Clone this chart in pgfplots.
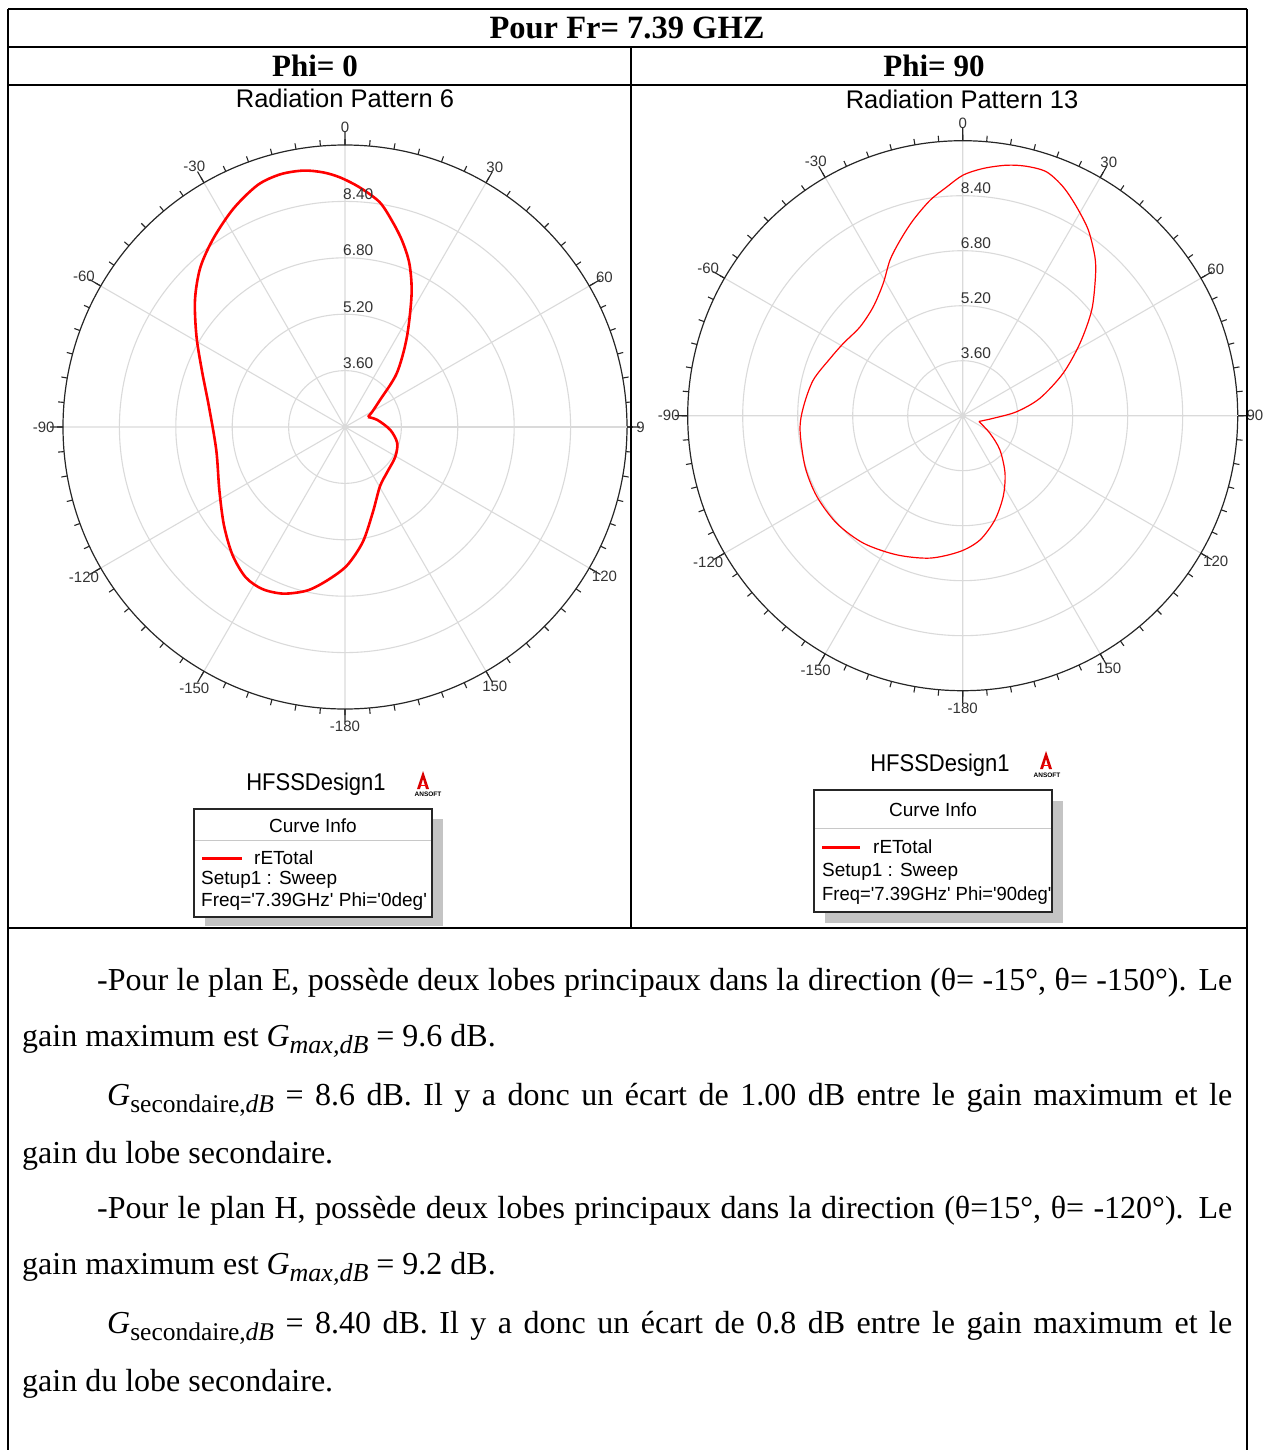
\documentclass[border=0pt]{standalone}
\usepackage{fontspec}
\setmainfont{Liberation Serif}
\newfontfamily\arial{Liberation Sans}
\usepackage{pgfplots}
\usepackage{pgfplotstable}
\pgfplotsset{compat=1.18}
\usepgfplotslibrary{polar}
\definecolor{gridgray}{HTML}{DADADA}
\definecolor{labgray}{HTML}{333333}
\definecolor{shadowgray}{HTML}{C4C4C4}
\definecolor{sepgray}{HTML}{C8C8C8}

% E-plane (Phi = 0): theta (deg, clockwise from top), gain (dB)
% listed from the notch round the pattern back to the notch
\pgfplotstableread{
t r
66.5 2.71
77.7 2.94
93.8 3.29
107.1 3.55
121.0 3.66
137.6 3.76
149.7 3.96
162.0 4.55
171.2 5.30
179.2 5.93
-173.4 6.38
-167.0 6.76
-159.7 7.04
-153.0 7.16
-146.5 7.11
-138.6 6.83
-129.0 6.42
-116.7 5.99
-100.2 5.71
-81.6 5.90
-69.2 6.33
-58.7 6.93
-49.7 7.58
-42.2 8.11
-34.8 8.53
-27.0 8.96
-19.8 9.30
-14.3 9.40
-9.2 9.37
-4.9 9.25
-1.1 9.08
3.5 8.81
8.8 8.45
13.1 7.97
17.2 7.51
21.6 6.97
26.6 6.22
34.6 5.09
43.9 4.12
52.4 3.25
60.9 2.88
66.5 2.71
}\leftdata

% H-plane (Phi = 90)
\pgfplotstableread{
t r
109.5 2.50
122.8 2.94
132.6 3.47
143.7 4.08
153.4 4.63
162.8 5.17
172.1 5.65
-178.9 5.95
-167.1 6.25
-154.6 6.48
-142.1 6.70
-130.5 6.82
-119.0 6.85
-108.0 6.82
-95.0 6.75
-86.8 6.64
-76.6 6.47
-66.6 6.20
-58.8 6.06
-49.1 5.95
-39.4 6.10
-31.0 6.49
-25.0 7.00
-19.6 7.42
-14.2 7.87
-8.6 8.34
-4.0 8.67
0.1 9.00
4.8 9.22
10.0 9.40
14.4 9.49
19.0 9.50
23.7 9.27
28.6 8.92
34.1 8.52
39.8 8.01
43.7 7.59
50.7 6.85
58.3 6.01
67.1 5.17
77.3 4.30
85.8 3.57
94.9 2.89
109.5 2.50
}\rightdata

\pgfplotsset{
  hfss/.style={
    anchor=center, scale only axis, clip=false,
    ymin=0, ymax=8,
    xtick={0,30,...,330},
    xticklabels={,,,,,,,,,,,},
    minor xtick={0,5,...,355},
    ytick={1.6,3.2,4.8,6.4},
    yticklabels={,,,},
    ytick style={draw=none},
    separate axis lines,
    x axis line style={draw=black!85, line width=1.2pt},
    y axis line style={draw=none},
    xmajorgrids, ymajorgrids,
    major grid style={draw=gridgray, line width=1.1pt},
    tick align=inside,
    major tick length=13pt, minor tick length=6pt,
    xtick style={black!85, line width=1.1pt},
    x filter/.expression={90-x}, y filter/.expression={y-2},
  },
}
\tikzset{
  rlab/.style={anchor=base west, inner sep=0pt, xshift=-2pt, yshift=2pt,
    font=\arial\fontsize{15.5pt}{15.5pt}\selectfont, text=labgray},
  alab/.style={anchor=center, inner sep=0pt,
    font=\arial\fontsize{15pt}{15pt}\selectfont, text=labgray},
}
% grid spoke at theta = 90 repainted in grid colour
\newcommand{\spoke}{\draw[gridgray, line width=1.1pt] (axis cs:0,0) -- (axis cs:0,8);}
% angle labels (pgf angle -> HFSS theta, clockwise from top)
\newcommand{\anglelabels}{%
  \node[alab] at (axis cs:90,8.5) {0};
  \node[alab] at (axis cs:60,8.5) {30};
  \node[alab] at (axis cs:30,8.5) {60};
  \node[alab] at (axis cs:0,8.5) {90};
  \node[alab] at (axis cs:330,8.5) {120};
  \node[alab] at (axis cs:300,8.5) {150};
  \node[alab] at (axis cs:270,8.5) {-180};
  \node[alab] at (axis cs:240,8.55) {-150};
  \node[alab] at (axis cs:210,8.55) {-120};
  \node[alab] at (axis cs:180,8.55) {-90};
  \node[alab] at (axis cs:150,8.55) {-60};
  \node[alab] at (axis cs:120,8.55) {-30};
  \fill[gridgray] (axis cs:0,0) circle (3pt);
  \node[rlab] at (axis cs:90,1.6) {3.60};
  \node[rlab] at (axis cs:90,3.2) {5.20};
  \node[rlab] at (axis cs:90,4.8) {6.80};
  \node[rlab] at (axis cs:90,6.4) {8.40};
}

\newcommand{\hf}[1]{\arial\fontsize{#1pt}{#1pt}\selectfont}
\newcommand{\tq}{\textquotesingle}

\begin{document}
\begin{tikzpicture}[x=1pt,y=1pt]
% ---------- left polar plot (Phi = 0) ----------
\begin{polaraxis}[hfss, at={(345pt,-427pt)}, width=564pt, height=564pt]
  \spoke
  \addplot[red, line width=2.6pt, line join=round, no markers, smooth, tension=0.5] table[x=t,y=r] {\leftdata};
  \anglelabels
\end{polaraxis}
% ---------- right polar plot (Phi = 90) ----------
\begin{polaraxis}[hfss, at={(962.7pt,-415.7pt)}, width=550pt, height=550pt]
  \spoke
  \addplot[red, line width=1.2pt, line join=round, no markers, smooth, tension=0.5] table[x=t,y=r] {\rightdata};
  \anglelabels
\end{polaraxis}

% hide the part of the left "90" label that the next cell covers
\fill[white] (645,-405) rectangle (656,-448);

% ---------- titles ----------
\node[font=\hf{25.5}] at (345,-98) {Radiation Pattern 6};
\node[font=\hf{25.5}] at (962,-99) {Radiation Pattern 13};

% ---------- left legend ----------
\node[font=\hf{22}] at (316,-784) {\scalebox{1}[1.1]{HFSSDesign1}};
\fill[red!85!black] (423,-771) -- (417,-789) -- (420,-789) -- (423,-779) -- (426,-789) -- (429,-789) -- cycle;
\draw[red, line width=1pt] (419.5,-785) -- (426.5,-785);
\node[font=\hf{6.5}\bfseries, inner sep=0pt] at (428,-794) {ANSOFT};
\fill[shadowgray] (205,-819) rectangle (443,-926);
\filldraw[fill=white, draw=black!85, line width=1.3pt] (194,-809) rectangle (432,-917);
\draw[sepgray, line width=1pt] (195,-840) -- (431,-840);
\node[font=\hf{19}] at (313,-826) {Curve Info};
\draw[red, line width=3pt] (202,-858) -- (242,-858);
\node[font=\hf{19}, anchor=west, inner sep=0pt] at (254,-858) {rETotal};
\node[font=\hf{19}, anchor=west, inner sep=0pt] at (201,-880) {Setup1 : Sweep};
\node[font=\hf{19}, anchor=west, inner sep=0pt] at (201,-902) {Freq=\tq7.39GHz\tq{} Phi=\tq0deg\tq};

% ---------- right legend ----------
\node[font=\hf{22}] at (940,-765) {\scalebox{1}[1.1]{HFSSDesign1}};
\fill[red!85!black] (1046,-751) -- (1040,-769) -- (1043,-769) -- (1046,-759) -- (1049,-769) -- (1052,-769) -- cycle;
\draw[red, line width=1pt] (1042.5,-765) -- (1049.5,-765);
\node[font=\hf{6.5}\bfseries, inner sep=0pt] at (1047,-775) {ANSOFT};
\fill[shadowgray] (825,-801) rectangle (1063,-923);
\filldraw[fill=white, draw=black!85, line width=1.3pt] (814,-790) rectangle (1052,-912);
\draw[sepgray, line width=1pt] (815,-828) -- (1051,-828);
\node[font=\hf{19}] at (933,-810) {Curve Info};
\draw[red, line width=3pt] (822,-847) -- (860,-847);
\node[font=\hf{19}, anchor=west, inner sep=0pt] at (873,-847) {rETotal};
\node[font=\hf{19}, anchor=west, inner sep=0pt] at (822,-872) {Setup1 : Sweep};
\node[font=\hf{19}, anchor=west, inner sep=0pt] at (822,-896) {\scalebox{0.97}[1]{Freq=\tq7.39GHz\tq{} Phi=\tq90deg\tq}};

% ---------- table ----------
\begin{scope}[line width=2pt, black]
  \draw (8,-9) -- (1247,-9);
  \draw (8,-47) -- (1247,-47);
  \draw (8,-85) -- (1247,-85);
  \draw (631,-47) -- (631,-928);
  \draw (8,-928) -- (1247,-928);
  \draw (8,-9) -- (8,-1452);
  \draw (1247,-9) -- (1247,-1452);
\end{scope}
\node[font=\fontsize{32.5pt}{32.5pt}\selectfont\bfseries] at (627,-28) {Pour Fr= 7.39 GHZ};
\node[font=\fontsize{31pt}{31pt}\selectfont\bfseries] at (315,-66) {Phi= 0};
\node[font=\fontsize{31pt}{31pt}\selectfont\bfseries] at (934,-66) {Phi= 90};

% ---------- paragraph ----------
\begin{scope}[every node/.style={anchor=base west, inner sep=0pt, font=\fontsize{32pt}{38pt}\selectfont}]
\node at (97,-990) {\makebox[1135pt][s]{-Pour le plan E, possède deux lobes principaux dans la direction (θ= -15°, θ= -150°). Le}};
\node at (22,-1046) {gain maximum est \textit{G}\raisebox{-7pt}{\fontsize{26pt}{26pt}\selectfont\textit{max,dB}} = 9.6 dB.};
\node at (107,-1105) {\makebox[1125pt][s]{\textit{G}\raisebox{-7pt}{\fontsize{25.5pt}{25.5pt}\selectfont secondaire,\textit{dB}} = 8.6 dB. Il y a donc un écart de 1.00 dB entre le gain maximum et le}};
\node at (22,-1163) {gain du lobe secondaire.};
\node at (97,-1218) {\makebox[1135pt][s]{-Pour le plan H, possède deux lobes principaux dans la direction (θ=15°, θ= -120°). Le}};
\node at (22,-1274) {gain maximum est \textit{G}\raisebox{-7pt}{\fontsize{26pt}{26pt}\selectfont\textit{max,dB}} = 9.2 dB.};
\node at (107,-1333) {\makebox[1125pt][s]{\textit{G}\raisebox{-7pt}{\fontsize{25.5pt}{25.5pt}\selectfont secondaire,\textit{dB}} = 8.40 dB. Il y a donc un écart de 0.8 dB entre le gain maximum et le}};
\node at (22,-1391) {gain du lobe secondaire.};
\end{scope}

\pgfresetboundingbox
\path[use as bounding box] (0,0) rectangle (1270,-1450);
\end{tikzpicture}
\end{document}
